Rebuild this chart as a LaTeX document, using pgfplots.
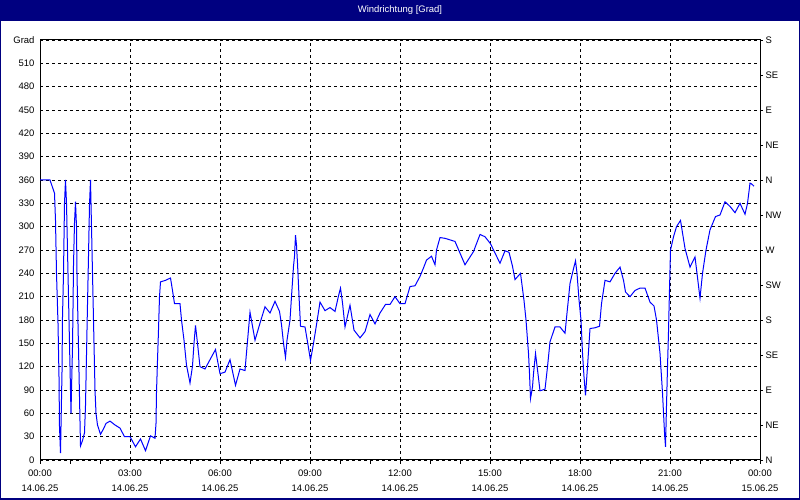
\documentclass[border=0pt]{standalone}
\usepackage{fontspec}
\setmainfont{Liberation Sans}
\usepackage{pgfplots}
\pgfplotsset{compat=1.18}
\definecolor{navy}{HTML}{000080}
\definecolor{lineblue}{HTML}{0000FF}

% minutes since 00:00 (14.06.25), wind direction in degrees
\pgfplotstableread{
t d
0 360
20 360
29 343
31 308
33 240
36 176
38 107
39 43
41 9
42 43
44 113
45 184
47 240
49 330
51 360
53 330
55 270
57 210
59 150
61 90
62 60
63 90
65 145
66 195
67 250
69 305
71 332
73 300
74 240
76 175
78 113
80 50
81 18
85 25
89 35
91 70
93 135
95 200
97 262
99 328
101 360
102 330
104 270
106 210
108 150
110 90
112 60
115 45
121 33
127 40
132 47
140 50
150 45
160 41
169 30
180 30
191 17
201 27
211 12
221 31
230 28
232 47
233 87
235 128
237 167
239 210
241 229
251 231
261 234
265 218
269 201
280 201
283 180
288 154
293 122
300 99
305 121
308 150
311 173
315 150
320 120
330 117
340 129
351 142
355 128
360 111
370 113
380 129
391 96
400 117
410 115
413 138
420 190
430 154
440 176
450 197
460 189
470 204
479 191
483 174
487 150
491 132
494 154
500 180
503 210
507 249
509 262
511 289
513 276
515 253
518 211
521 172
530 171
535 152
541 128
547 150
553 174
560 203
570 192
580 196
590 191
597 211
601 221
605 202
610 171
620 199
628 167
640 157
650 165
660 187
670 175
680 189
691 200
700 200
710 210
720 201
730 201
740 223
750 224
760 236
767 247
773 257
783 262
790 251
793 270
800 286
810 285
830 281
850 251
867 268
880 290
890 287
901 278
910 266
920 253
930 269
938 267
945 249
950 232
961 240
968 205
972 180
977 137
979 111
981 79
985 94
987 111
991 137
995 116
1000 89
1010 91
1015 120
1020 152
1030 171
1040 171
1050 163
1054 189
1060 227
1067 246
1071 256
1074 240
1078 206
1082 180
1085 137
1088 107
1091 83
1095 120
1100 169
1110 170
1119 172
1123 201
1130 231
1140 229
1150 240
1160 248
1167 231
1171 216
1180 210
1190 218
1200 221
1210 221
1220 203
1228 198
1233 180
1240 137
1245 86
1249 35
1251 17
1253 70
1255 120
1257 165
1259 220
1261 270
1267 287
1273 300
1281 308
1290 272
1300 248
1310 261
1320 208
1325 240
1332 270
1340 296
1351 313
1360 315
1370 332
1380 326
1390 318
1400 330
1410 316
1415 330
1420 356
1423 355
1428 352
}\winddata

\begin{document}
\begin{tikzpicture}[x=1bp,y=1bp]
\fill[white] (0,0) rectangle (800,500);
\fill[navy] (0,479) rectangle (800,500);
\draw[navy, line width=1.5bp] (0.75,0.75) rectangle (799.25,499.25);
\node[white, font=\fontsize{9.5}{11}\selectfont] at (400,490) {Windrichtung [Grad]};

\begin{axis}[
    at={(40bp,40bp)}, anchor=south west,
    scale only axis, width=720bp, height=420bp,
    xmin=0, xmax=1440, ymin=0, ymax=540,
    xtick={0,180,...,1440},
    minor xtick={60,120,...,1380},
    xticklabels={{00:00\\14.06.25},{03:00\\14.06.25},{06:00\\14.06.25},{09:00\\14.06.25},{12:00\\14.06.25},{15:00\\14.06.25},{18:00\\14.06.25},{21:00\\14.06.25},{00:00\\15.06.25}},
    ytick={0,30,...,540},
    yticklabels={0,30,60,90,120,150,180,210,240,270,300,330,360,390,420,450,480,510,Grad},
    grid=major,
    grid style={black, dash pattern=on 3bp off 3bp, line width=0.8bp},
    axis line style={black, line width=1bp},
    tick align=outside,
    xtick pos=bottom, ytick pos=left,
    major tick length=4bp, minor tick length=4bp,
    every tick/.style={black, line width=0.8bp},
    y tick style={draw=none},
    tick label style={font=\fontsize{9.5}{15}\selectfont},
    xticklabel style={align=center, yshift=-2bp},
    yticklabel style={xshift=2bp},
    /pgf/number format/assume math mode=true,
]
\addplot[lineblue, line width=1bp, sharp plot] table[x=t, y=d] {\winddata};
\end{axis}

\begin{axis}[
    at={(40bp,40bp)}, anchor=south west,
    scale only axis, width=720bp, height=420bp,
    xmin=0, xmax=1440, ymin=0, ymax=540,
    axis x line=none,
    axis y line*=right,
    axis line style={black, line width=1bp, -},
    ytick={0,45,...,540},
    yticklabels={N,NE,E,SE,S,SW,W,NW,N,NE,E,SE,S},
    tick align=outside,
    major tick length=3bp,
    every tick/.style={black, line width=0.8bp},
    tick label style={font=\fontsize{9.5}{11}\selectfont},
    yticklabel style={anchor=west, xshift=-1bp},
]
\addplot[draw=none] coordinates {(0,0)};
\end{axis}
\end{tikzpicture}
\end{document}
